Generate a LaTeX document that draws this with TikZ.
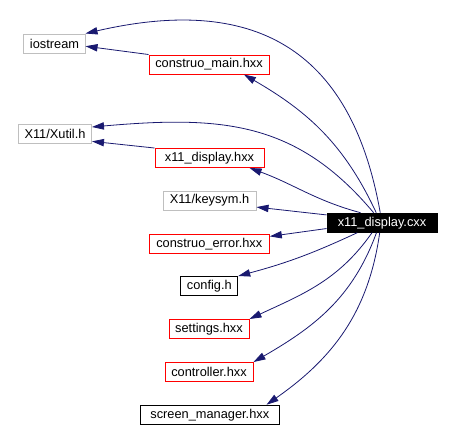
\documentclass[tikz,border=0pt]{standalone}
\usepackage{fontspec}
\setmainfont{Liberation Sans}
\usetikzlibrary{arrows.meta}

\definecolor{edgeblue}{HTML}{191970}
\definecolor{extgray}{HTML}{BFBFBF}

\begin{document}
\begin{tikzpicture}[
    x=0.75pt, y=0.75pt,
    file/.style={
        draw,
        line width=0.75pt,
        font=\fontsize{9.6}{11}\selectfont,
        minimum height=14.25pt,
        inner xsep=4.5pt,
        inner ysep=0pt
    },
    extfile/.style={file, draw=extgray},
    redfile/.style={file, draw=red},
    blackfile/.style={file, draw=black},
    mainfile/.style={file, draw=black, fill=black, text=white},
    dep/.style={
        draw=edgeblue,
        line width=0.6pt,
        -{Triangle[length=9pt,width=5.5pt]}
    }
]

\useasboundingbox (0,0) rectangle (452,-430);

\node[extfile, minimum width=45.75pt] (iostream) at (54.5,-43.5) {iostream};
\node[redfile, minimum width=90pt] (cmain) at (209,-64.5) {construo\_main.hxx};
\node[extfile, minimum width=54pt] (xutil) at (55,-133.5) {X11/Xutil.h};
\node[redfile, minimum width=81.75pt] (xdisp) at (209.5,-158) {x11\_display.hxx};
\node[extfile, minimum width=69.75pt] (keysym) at (209.5,-200.5) {X11/keysym.h};
\node[mainfile, minimum width=82.5pt] (cxx) at (382,-222.7) {x11\_display.cxx};
\node[redfile, minimum width=90pt] (cerror) at (209.3,-243.8) {construo\_error.hxx};
\node[blackfile, minimum width=42pt] (config) at (209.3,-286) {config.h};
\node[redfile, minimum width=60pt] (settings) at (209,-329) {settings.hxx};
\node[redfile, minimum width=66pt] (controller) at (209,-372) {controller.hxx};
\node[blackfile, minimum width=104.25pt] (screen) at (209.8,-414.7) {screen\_manager.hxx};

\draw[dep] (cxx.100) to[out=100,in=13,out distance=127.5pt,in distance=127.5pt] (iostream.north east);
\draw[dep] (cxx.120) to[out=115,in=-30] (cmain.-16);
\draw[dep] (cxx.130) to[out=130,in=5,out distance=90pt,in distance=97.5pt] (xutil.10);
\draw[dep] (cxx.155) to[out=165,in=-20] (xdisp.-14);
\draw[dep] (cxx.172) -- (keysym.-8);
\draw[dep] (cxx.186) -- (cerror.7);
\draw[dep] (cxx.202) to[out=205,in=15] (config.north east);
\draw[dep] (cxx.225) to[out=235,in=25] (settings.north east);
\draw[dep] (cxx.241) to[out=250,in=30] (controller.north east);
\draw[dep] (cxx.257) to[out=262,in=35] (screen.10);
\draw[dep] (cmain.north west) -- (iostream.-5);
\draw[dep] (xdisp.north west) -- (xutil.-12);

\end{tikzpicture}
\end{document}
